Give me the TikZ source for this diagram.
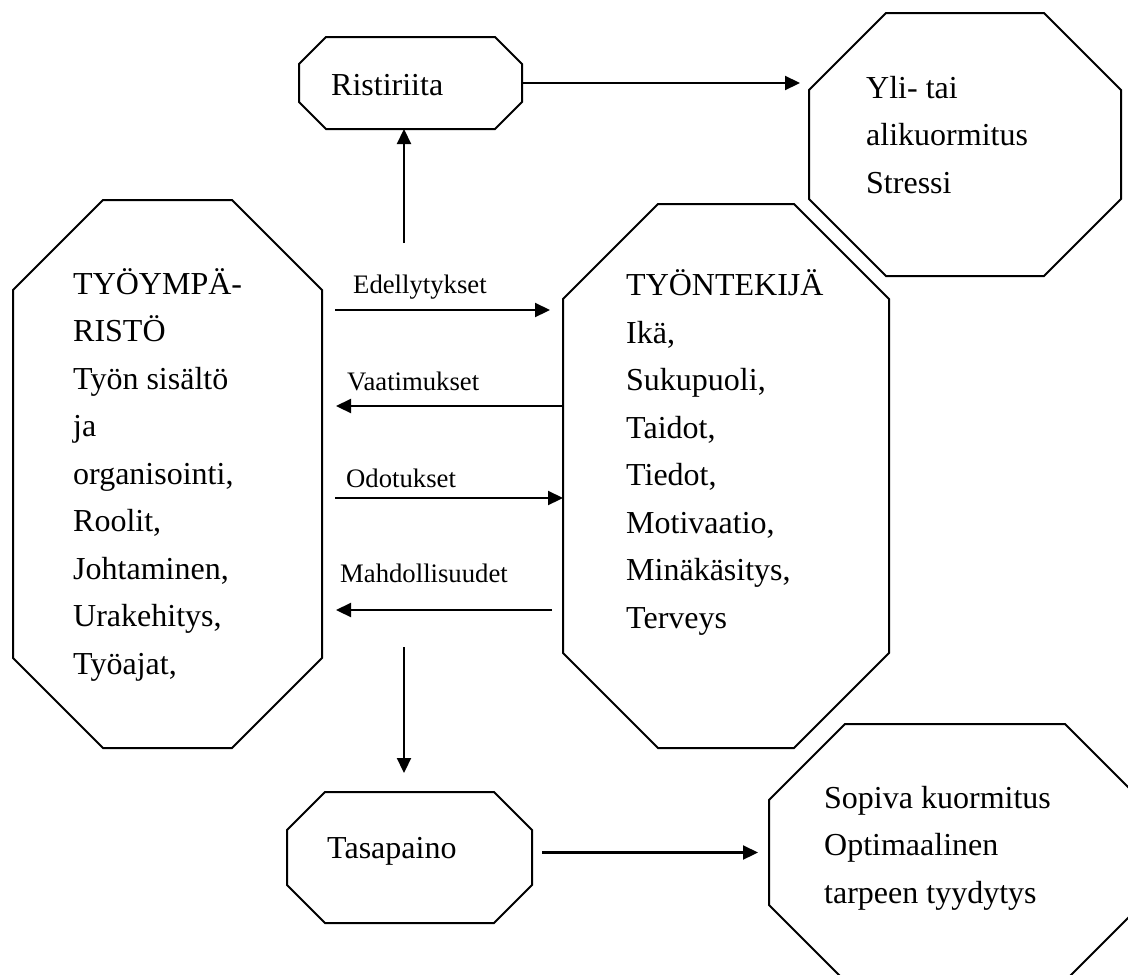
\documentclass[tikz,border=0pt]{standalone}
\usepackage{fontspec}
\setmainfont{Liberation Serif}
\usetikzlibrary{arrows.meta}

% octagon outline round a named node, #2 = size of the cut corner
\newcommand{\cutcorners}[2]{%
  \draw[boxline] ([xshift=#2pt]#1.north west) -- ([xshift=-#2pt]#1.north east)
    -- ([yshift=-#2pt]#1.north east) -- ([yshift=#2pt]#1.south east)
    -- ([xshift=-#2pt]#1.south east) -- ([xshift=#2pt]#1.south west)
    -- ([yshift=#2pt]#1.south west) -- ([yshift=-#2pt]#1.north west) -- cycle;}

\begin{document}
\begin{tikzpicture}[x=1pt,y=-1pt,
    area/.style={rectangle,inner sep=0pt,outer sep=0pt},
    boxline/.style={line width=2pt,line join=miter},
    txt/.style={anchor=base west,align=left,inner sep=0pt,font=\fontsize{32}{47.5}\selectfont},
    lbl/.style={anchor=base west,inner sep=0pt,font=\fontsize{26.7}{32}\selectfont},
    arr/.style={line width=2.2pt,-{Triangle[length=15pt,width=14pt]}}]
  \useasboundingbox (0,0) rectangle (1128,975);

  % boxes
  \node[area,minimum width=223pt,minimum height=92pt] (conflict) at (410.5,83) {};
  \node[area,minimum width=312pt,minimum height=263pt] (overload) at (965,144.5) {};
  \node[area,minimum width=309pt,minimum height=548pt] (env) at (167.5,474) {};
  \node[area,minimum width=326pt,minimum height=544pt] (worker) at (726,476) {};
  \node[area,minimum width=245pt,minimum height=131pt] (balance) at (409.5,857.5) {};
  \node[area,minimum width=372pt,minimum height=257pt] (fit) at (955,852.5) {};
  \cutcorners{conflict}{27}
  \cutcorners{overload}{77}
  \cutcorners{env}{90}
  \cutcorners{worker}{95}
  \cutcorners{balance}{38}
  \cutcorners{fit}{76}

  % texts in the boxes (placed at the baseline of the last line)
  \node[txt] (conflicttext) at (331,95) {Ristiriita};
  \node[txt] (overloadtext) at (866,193) {Yli- tai\\alikuormitus\\Stressi};
  \node[txt] (envtext) at (73,674) {TYÖYMPÄ-\\RISTÖ\\Työn sisältö\\ja\\organisointi,\\Roolit,\\Johtaminen,\\Urakehitys,\\Työajat,};
  \node[txt] (workertext) at (626,628) {TYÖNTEKIJÄ\\Ikä,\\Sukupuoli,\\Taidot,\\Tiedot,\\Motivaatio,\\Minäkäsitys,\\Terveys};
  \node[txt] (balancetext) at (327,858) {Tasapaino};
  \node[txt] (fittext) at (824,903) {Sopiva kuormitus\\Optimaalinen\\tarpeen tyydytys};

  % arrows
  \coordinate (row1) at (0,310);
  \coordinate (row2) at (0,406);
  \coordinate (row3) at (0,498);
  \coordinate (row4) at (0,610);
  \coordinate (up) at (404,243);
  \coordinate (down) at (404,647);
  \coordinate (overloadin) at (800,83);

  \draw[arr] (up) -- (up |- conflict.south);
  \draw[arr] (conflict.east) -- (overloadin);
  \draw[arr,shorten <=13pt,shorten >=13pt] (env.east |- row1) -- (worker.west |- row1);
  \draw[arr,shorten >=14pt] (worker.west |- row2) -- (env.east |- row2);
  \draw[arr,shorten <=13pt] (env.east |- row3) -- (worker.west |- row3);
  \draw[arr,shorten <=11pt,shorten >=14pt] (worker.west |- row4) -- (env.east |- row4);
  \draw[arr,shorten >=19pt] (down) -- (down |- balance.north);
  \draw[arr,shorten <=10pt,shorten >=11pt] (balance.east |- fit.west) -- (fit.west);

  % labels of the arrows
  \node[lbl] (needs) at (353,293) {Edellytykset};
  \node[lbl] (demands) at (347,390) {Vaatimukset};
  \node[lbl] (hopes) at (346,487) {Odotukset};
  \node[lbl] (chances) at (340,582) {Mahdollisuudet};
\end{tikzpicture}
\end{document}
